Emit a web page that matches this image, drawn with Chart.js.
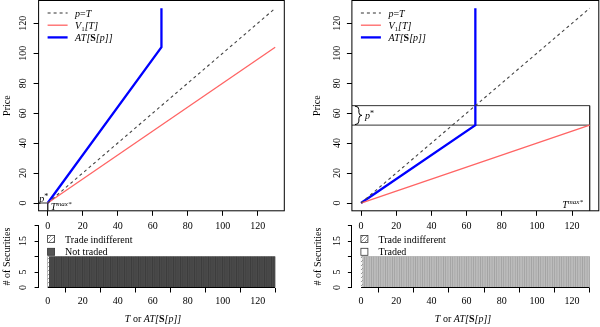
<!DOCTYPE html>
<html>
<head>
<meta charset="utf-8">
<script src="https://cdn.jsdelivr.net/npm/chart.js@4.4.1/dist/chart.umd.min.js"></script>
<style>
  html, body { margin: 0; padding: 0; background: #fff; }
  #wrap { position: relative; width: 600px; height: 327px; overflow: hidden; }
  #wrap canvas { position: absolute; }
</style>
</head>
<body>
<div id="wrap">
  <canvas id="c-tl" width="300" height="240" style="left:0;top:0"></canvas>
  <canvas id="c-tr" width="300" height="240" style="left:300px;top:0"></canvas>
  <canvas id="c-bl" width="300" height="112" style="left:0;top:215px"></canvas>
  <canvas id="c-br" width="300" height="112" style="left:300px;top:215px"></canvas>
</div>
<script>
// ---- data ----
const xTicks = [0, 20, 40, 60, 80, 100, 120];
const priceTicks = [0, 20, 40, 60, 80, 100, 120];
const countTicks = [0, 5, 10, 15, 20];
const countLabels = ['0', '5', '', '15', ''];
const axisRange = [-5.2, 135.2];
const countRange = [0, 20];

// p = T diagonal
const diagT = [0, 130];
const diagP = [0, 130];

// left panel (p* = 0, T^max* = 0)
const v1T = [0, 130];
const leftV1 = [0, 104];
const leftAtT = [0, 65, 65];
const leftAtP = [0, 104, 130];
const leftPStar = 0;
const leftTmax = 0;

// right panel (p* between 52 and 65, T^max* = 130)
const rightV1 = [0, 52];
const rightAtT = [0, 65, 65];
const rightAtP = [0, 52, 130];
const rightPStar = [52, 65];
const rightTmax = 130;

// histogram of securities, bins of width 1 starting at 0
const binStart = 0;
const binWidth = 1;
const binCounts = [
  10, 10, 10, 10, 10, 10, 10, 10, 10, 10, 10, 10, 10, 10, 10, 10, 10, 10, 10, 10,
  10, 10, 10, 10, 10, 10, 10, 10, 10, 10, 10, 10, 10, 10, 10, 10, 10, 10, 10, 10,
  10, 10, 10, 10, 10, 10, 10, 10, 10, 10, 10, 10, 10, 10, 10, 10, 10, 10, 10, 10,
  10, 10, 10, 10, 10, 10, 10, 10, 10, 10, 10, 10, 10, 10, 10, 10, 10, 10, 10, 10,
  10, 10, 10, 10, 10, 10, 10, 10, 10, 10, 10, 10, 10, 10, 10, 10, 10, 10, 10, 10,
  10, 10, 10, 10, 10, 10, 10, 10, 10, 10, 10, 10, 10, 10, 10, 10, 10, 10, 10, 10,
  10, 10, 10, 10, 10, 10, 10, 10, 10, 10
];
const indifferentBins = [0];

// ---- helpers ----
const FONT = '"Liberation Serif", "Times New Roman", serif';
Chart.defaults.font.family = FONT;
Chart.defaults.font.size = 10;
Chart.defaults.color = '#000';

const RED = '#ff6464';
const BLUE = '#0000ff';
const DASH = '#444444';

function pts(xs, ys) { return xs.map((x, i) => ({ x: x, y: ys[i] })); }

function fontOf(s) { return (s[1] || '') + ' ' + (s[2] || 10) + 'px ' + FONT; }

// segs: [text, style, size, dy]
function rich(ctx, segs, x, y, align) {
  const w = segs.map(s => { ctx.font = fontOf(s); return ctx.measureText(s[0]).width; });
  const total = w.reduce((a, b) => a + b, 0);
  let cx = align === 'center' ? x - total / 2 : x;
  ctx.textAlign = 'left';
  ctx.textBaseline = 'alphabetic';
  segs.forEach((s, i) => { ctx.font = fontOf(s); ctx.fillText(s[0], cx, y + (s[3] || 0)); cx += w[i]; });
}

function yLabels(ctx, scale, ticks, labels, x) {
  ctx.save();
  ctx.font = '10px ' + FONT;
  ctx.fillStyle = '#000';
  ctx.textAlign = 'center';
  ctx.textBaseline = 'middle';
  ticks.forEach((v, i) => {
    if (!labels[i]) return;
    ctx.save();
    ctx.translate(x, scale.getPixelForValue(v));
    ctx.rotate(-Math.PI / 2);
    ctx.fillText(labels[i], 0, 0);
    ctx.restore();
  });
  ctx.restore();
}

const legendRows = [
  { segs: [['p', 'italic'], ['=', ''], ['T', 'italic']], color: DASH, width: 1.1, dash: [3, 3] },
  { segs: [['V', 'italic'], ['1', '', 7, 2], ['[T]', 'italic']], color: RED, width: 1.3, dash: [] },
  { segs: [['AT[', 'italic'], ['S', 'bold'], ['[p]]', 'italic']], color: BLUE, width: 2.3, dash: [] }
];
const xTitle = [['T', 'italic'], [' or ', ''], ['AT[', 'italic'], ['S', 'bold'], ['[p]]', 'italic']];

let hatch = null;
function hatchPattern() {
  if (hatch) return hatch;
  const c = document.createElement('canvas');
  c.width = 4; c.height = 4;
  const g = c.getContext('2d');
  g.fillStyle = '#fff'; g.fillRect(0, 0, 4, 4);
  g.fillStyle = '#9a9a9a';
  for (let i = 0; i < 4; i++) g.fillRect(i, 3 - i, 1, 1);
  hatch = g.createPattern(c, 'repeat');
  return hatch;
}

// ---- top panels ----
function topPanel(id, cfg) {
  const decor = {
    id: 'decor-' + id,
    afterDraw(chart) {
      const ctx = chart.ctx, a = chart.chartArea;
      ctx.save();
      ctx.strokeStyle = '#000';
      ctx.lineWidth = 1;
      ctx.strokeRect(a.left, a.top, a.right - a.left, a.bottom - a.top);
      yLabels(ctx, chart.scales.y, priceTicks, priceTicks.map(String), cfg.yLabelX);
      // legend
      const lx = a.left + 9;
      legendRows.forEach((r, i) => {
        const y = 13 + i * 12.2;
        ctx.beginPath();
        ctx.setLineDash(r.dash);
        ctx.strokeStyle = r.color;
        ctx.lineWidth = r.width;
        ctx.moveTo(lx, y); ctx.lineTo(lx + 20, y);
        ctx.stroke();
        ctx.setLineDash([]);
        ctx.fillStyle = '#000';
        rich(ctx, r.segs, lx + 27.5, y + 3.5);
      });
      cfg.notes(ctx, chart);
      ctx.restore();
    }
  };
  return new Chart(document.getElementById(id), {
    type: 'scatter',
    data: {
      datasets: [
        { data: pts(diagT, diagP), showLine: true, borderColor: DASH, borderWidth: 1.1, borderDash: [3, 3], pointRadius: 0 },
        { data: pts(v1T, cfg.v1), showLine: true, borderColor: RED, borderWidth: 1.3, pointRadius: 0 },
        { data: pts(cfg.atT, cfg.atP), showLine: true, borderColor: BLUE, borderWidth: 2.3, pointRadius: 0 }
      ].concat(cfg.refLines.map(r => ({
        data: r, showLine: true, borderColor: '#333', borderWidth: 1, pointRadius: 0
      })))
    },
    options: {
      responsive: false, animation: false, devicePixelRatio: 1,
      layout: { padding: { left: 0, top: 0.5, right: cfg.padRight, bottom: 0 } },
      plugins: { legend: { display: false }, tooltip: { enabled: false } },
      scales: {
        x: {
          type: 'linear', min: axisRange[0], max: axisRange[1],
          afterBuildTicks: s => { s.ticks = xTicks.map(v => ({ value: v })); },
          afterFit: s => { s.height = 29.2; },
          grid: { display: true, drawOnChartArea: false, drawTicks: true, tickLength: 5, color: '#000' },
          border: { display: false },
          ticks: { padding: 5, color: '#000', maxRotation: 0, autoSkip: false }
        },
        y: {
          type: 'linear', min: axisRange[0], max: axisRange[1],
          afterBuildTicks: s => { s.ticks = priceTicks.map(v => ({ value: v })); },
          afterFit: s => { s.width = cfg.yAxisW; },
          grid: { display: true, drawOnChartArea: false, drawTicks: true, tickLength: 5, color: '#000' },
          border: { display: false },
          ticks: { display: false },
          title: { display: true, text: 'Price', color: '#000', padding: { top: cfg.titlePad, bottom: 0 } }
        }
      }
    },
    plugins: [decor]
  });
}

topPanel('c-tl', {
  v1: leftV1, atT: leftAtT, atP: leftAtP,
  refLines: [[{ x: axisRange[0], y: leftPStar }, { x: leftTmax, y: leftPStar }, { x: leftTmax, y: axisRange[0] }]],
  padRight: 15.7, yAxisW: 38.6, titlePad: 1.5, yLabelX: 23.3,
  notes(ctx, chart) {
    const x = chart.scales.x, y = chart.scales.y;
    ctx.fillStyle = '#000';
    rich(ctx, [['p', 'italic'], ['*', '', 8, -3]], x.getPixelForValue(leftTmax) - 8.5, y.getPixelForValue(leftPStar) - 1);
    rich(ctx, [['T', 'italic'], ['max*', 'italic', 7, -4]], x.getPixelForValue(leftTmax) + 3, y.getPixelForValue(leftPStar) + 7);
  }
});

topPanel('c-tr', {
  v1: rightV1, atT: rightAtT, atP: rightAtP,
  refLines: [
    [{ x: axisRange[0], y: rightPStar[1] }, { x: rightTmax, y: rightPStar[1] }, { x: rightTmax, y: axisRange[0] }],
    [{ x: axisRange[0], y: rightPStar[0] }, { x: rightTmax, y: rightPStar[0] }]
  ],
  padRight: 1.2, yAxisW: 51.9, titlePad: 11, yLabelX: 37,
  notes(ctx, chart) {
    const x = chart.scales.x, y = chart.scales.y;
    const yTop = y.getPixelForValue(rightPStar[1]), yBot = y.getPixelForValue(rightPStar[0]);
    const bx = chart.chartArea.left + 3, mid = (yTop + yBot) / 2;
    // curly brace
    ctx.beginPath();
    ctx.strokeStyle = '#000';
    ctx.lineWidth = 1;
    ctx.moveTo(bx, yTop + 0.5);
    ctx.quadraticCurveTo(bx + 4, yTop + 0.5, bx + 4, yTop + 4);
    ctx.lineTo(bx + 4, mid - 3);
    ctx.quadraticCurveTo(bx + 4, mid, bx + 7, mid);
    ctx.quadraticCurveTo(bx + 4, mid, bx + 4, mid + 3);
    ctx.lineTo(bx + 4, yBot - 4);
    ctx.quadraticCurveTo(bx + 4, yBot - 0.5, bx, yBot - 0.5);
    ctx.stroke();
    ctx.fillStyle = '#000';
    rich(ctx, [['p', 'italic'], ['*', '', 8, -3]], bx + 10, mid + 3.5);
    rich(ctx, [['T', 'italic'], ['max*', 'italic', 7, -4]], x.getPixelForValue(rightTmax) - 27.5, y.getPixelForValue(0) + 4.5);
  }
});

// ---- bottom panels ----
function bottomPanel(id, cfg) {
  const decor = {
    id: 'decor-' + id,
    afterDraw(chart) {
      const ctx = chart.ctx, a = chart.chartArea;
      const x = chart.scales.x, y = chart.scales.y;
      ctx.save();
      yLabels(ctx, y, countTicks, countLabels, cfg.yLabelX);
      // x axis line
      ctx.beginPath();
      ctx.strokeStyle = '#000';
      ctx.lineWidth = 1;
      const y0 = y.getPixelForValue(0);
      ctx.moveTo(x.getPixelForValue(xTicks[0]), y0);
      ctx.lineTo(x.getPixelForValue(binStart + binCounts.length * binWidth), y0);
      ctx.stroke();
      // legend
      const lx = a.left + 9;
      const boxes = [hatchPattern(), cfg.legendFill];
      cfg.legendText.forEach((t, i) => {
        const cy = 24 + i * 12.8;
        ctx.fillStyle = boxes[i];
        ctx.fillRect(lx, cy - 3.5, 7, 7);
        ctx.strokeStyle = '#333';
        ctx.lineWidth = 0.8;
        ctx.strokeRect(lx, cy - 3.5, 7, 7);
        ctx.fillStyle = '#000';
        rich(ctx, [[t, '']], lx + 17.5, cy + 3.5);
      });
      ctx.fillStyle = '#000';
      rich(ctx, xTitle, cfg.titleX, 106.5, 'center');
      ctx.restore();
    }
  };
  const fills = binCounts.map((c, i) => indifferentBins.includes(i) ? hatchPattern() : cfg.barFill);
  return new Chart(document.getElementById(id), {
    type: 'bar',
    data: {
      datasets: [{
        data: binCounts.map((c, i) => ({ x: binStart + (i + 0.5) * binWidth, y: c })),
        backgroundColor: fills,
        borderColor: cfg.barBorder,
        borderWidth: 0.35,
        borderSkipped: false,
        barPercentage: 1,
        categoryPercentage: 1,
        grouped: false
      }]
    },
    options: {
      responsive: false, animation: false, devicePixelRatio: 1,
      layout: { padding: { left: 0, top: 10.5, right: cfg.padRight, bottom: 0 } },
      plugins: { legend: { display: false }, tooltip: { enabled: false } },
      scales: {
        x: {
          type: 'linear', min: axisRange[0], max: axisRange[1], offset: false,
          afterBuildTicks: s => { s.ticks = xTicks.map(v => ({ value: v })); },
          afterFit: s => { s.height = 39.5; },
          grid: { display: true, drawOnChartArea: false, drawTicks: true, tickLength: 5, color: '#000' },
          border: { display: false },
          ticks: { padding: 2.5, color: '#000', maxRotation: 0, autoSkip: false }
        },
        y: {
          type: 'linear', min: countRange[0], max: countRange[1],
          afterBuildTicks: s => { s.ticks = countTicks.map(v => ({ value: v })); },
          afterFit: s => { s.width = cfg.yAxisW; },
          grid: { display: true, drawOnChartArea: false, drawTicks: true, tickLength: 4, color: '#000' },
          border: { display: true, color: '#000', width: 1 },
          ticks: { display: false },
          title: { display: true, text: '# of Securities', color: '#000', padding: { top: cfg.titlePad, bottom: 0 } }
        }
      }
    },
    plugins: [decor]
  });
}

bottomPanel('c-bl', {
  barFill: '#4a4a4a', barBorder: '#333333', legendFill: '#555555',
  legendText: ['Trade indifferent', 'Not traded'],
  padRight: 15.7, yAxisW: 38.6, titlePad: 1, yLabelX: 23.3, titleX: 153
});

bottomPanel('c-br', {
  barFill: '#bcbcbc', barBorder: '#8c8c8c', legendFill: '#ffffff',
  legendText: ['Trade indifferent', 'Traded'],
  padRight: 1.2, yAxisW: 51.9, titlePad: 12, yLabelX: 37, titleX: 163
});
</script>
</body>
</html>
